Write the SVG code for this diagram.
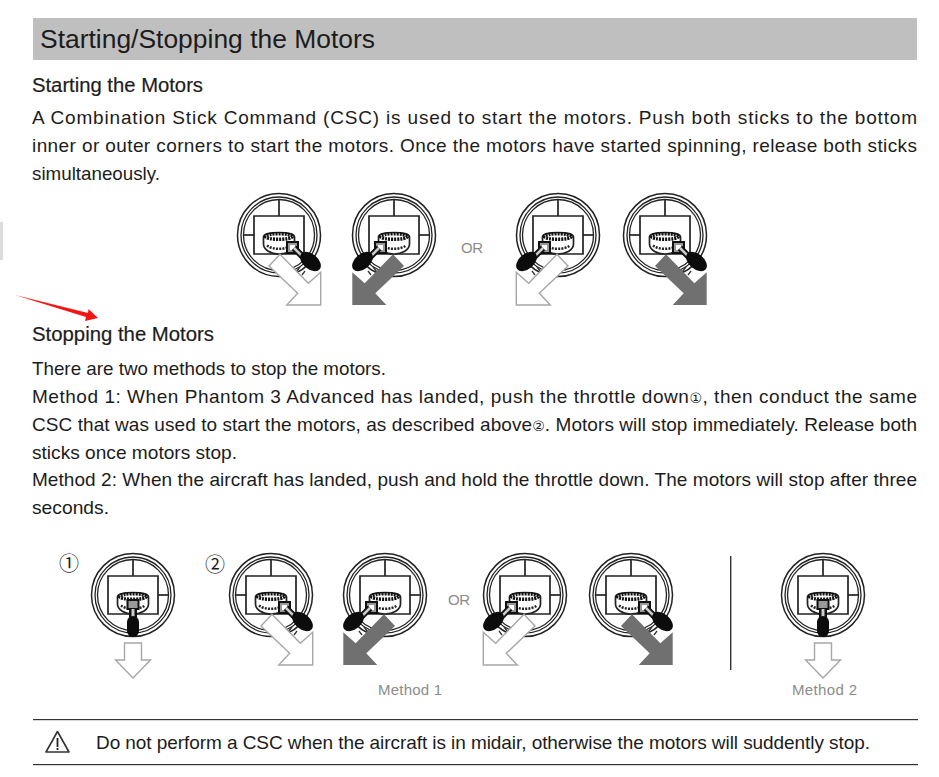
<svg xmlns="http://www.w3.org/2000/svg" xmlns:xlink="http://www.w3.org/1999/xlink" width="939" height="777" viewBox="0 0 939 777">
<style>
text{font-family:"Liberation Sans",Arial,"DejaVu Sans",sans-serif;fill:#1c1c1c}
.b{font-size:19px}
.h{font-size:20.500px;stroke:#1c1c1c;stroke-width:.2}
.g{font-size:15px;fill:#8c8c8c}
.c{font-family:"Noto Sans CJK JP",sans-serif;font-size:20px}
.o{fill:#fff;stroke:#a6a6a6;stroke-width:1.4}
.d{fill:#707070}
.l{fill:none;stroke:#222;stroke-width:1.7}
</style>
<defs>
<g id="base">
<circle r="41.500" fill="#fff" stroke="#222" stroke-width="1.500"/>
<circle r="38" fill="#fff" stroke="#222" stroke-width="1.300"/>
<circle r="35.500" fill="#fff" stroke="#222" stroke-width="1.300"/>
<path class="l" d="M0-35V-19M-25-19H25V19H-25Z"/>
<path d="M-15.500 2C-15.500 -4 15.500 -4 15.500 2V9C15.500 15 8 19 0 19C-8 19 -15.500 15 -15.500 9Z" fill="#fff" stroke="#222" stroke-width="1.700"/>
<ellipse cy="1.500" rx="13.500" ry="2.800" fill="none" stroke="#111" stroke-width="3.500" stroke-dasharray="2 1"/>
<path d="M-12 10.500C-6 15 6 15 12 10.500" fill="none" stroke="#222" stroke-width="2.500" stroke-dasharray="2 1.200"/>
</g>
<path id="stubL" class="l" d="M-35 0H-25"/>
<path id="stubR" class="l" d="M25 0H35"/>
<g id="stickR">
<rect x="8" y="7" width="11" height="11" fill="#999" stroke="#111" stroke-width="2"/>
<rect x="11" y="10" width="5" height="5" fill="#fff"/>
<path d="M15 13L26 24" stroke="#111" stroke-width="6.500"/>
<path d="M15 13L26 24" stroke="#ccc" stroke-width="2.500"/>
<ellipse cx="31.500" cy="26.500" rx="12" ry="7.500" transform="rotate(40 31.500 26.500)" fill="#0c0c0c"/>
<path d="M21 32L17 37M26 36L23 40" stroke="#333" stroke-width="1.300"/>
</g>
<polygon id="ar" points="1,19.3 29.3,48.3 41.7,37.3 41.7,70 7.7,70 18.7,58.3 -10,31"/>
<g id="stickD">
<rect x="-5.500" y="5" width="11" height="9" fill="#999" stroke="#111" stroke-width="2"/>
<path d="M0 14V24" stroke="#111" stroke-width="8"/>
<path d="M0 14V24" stroke="#ccc" stroke-width="3"/>
<rect x="-6" y="21" width="12" height="21" rx="6" fill="#0c0c0c"/>
</g>
<polygon id="dn" points="-8.5,48 8.5,48 8.5,65 17.5,65 0,83 -17.5,65 -8.5,65"/>
</defs>

<rect x="0" y="222" width="3" height="38" fill="#dcdcdc"/>
<rect x="33" y="18" width="884" height="42" fill="#bfbfbf"/>
<text x="40" y="48" font-size="26.500" textLength="335" lengthAdjust="spacingAndGlyphs">Starting/Stopping the Motors</text>
<text class="h" x="32" y="92" textLength="171" lengthAdjust="spacingAndGlyphs">Starting the Motors</text>
<text class="b" x="32" y="124" textLength="885">A Combination Stick Command (CSC) is used to start the motors. Push both sticks to the bottom</text>
<text class="b" x="32" y="152" textLength="885">inner or outer corners to start the motors. Once the motors have started spinning, release both sticks</text>
<text class="b" x="32" y="180" textLength="128" lengthAdjust="spacingAndGlyphs">simultaneously.</text>

<g id="start-a" transform="translate(279 235)"><use xlink:href="#base"/><use xlink:href="#stubL"/><use xlink:href="#stickR"/><use xlink:href="#ar" class="o"/></g>
<g id="start-b" transform="translate(394 235)"><use xlink:href="#base"/><use xlink:href="#stubR"/><g transform="scale(-1 1)"><use xlink:href="#stickR"/><use xlink:href="#ar" class="d"/></g></g>
<text class="g" x="461" y="253" textLength="22">OR</text>
<g id="start-c" transform="translate(558 235)"><use xlink:href="#base"/><use xlink:href="#stubR"/><g transform="scale(-1 1)"><use xlink:href="#stickR"/><use xlink:href="#ar" class="o"/></g></g>
<g id="start-d" transform="translate(665 235)"><use xlink:href="#base"/><use xlink:href="#stubL"/><use xlink:href="#stickR"/><use xlink:href="#ar" class="d"/></g>

<polygon id="red-arrow" points="15,295 88,313 88.500,309 98,318 85,321 86,317" fill="#f51414"/>

<text class="h" x="32" y="341" textLength="182" lengthAdjust="spacingAndGlyphs">Stopping the Motors</text>
<text class="b" x="32" y="375" textLength="354" lengthAdjust="spacingAndGlyphs">There are two methods to stop the motors.</text>
<text class="b" x="32" y="403" textLength="885">Method 1: When Phantom 3 Advanced has landed, push the throttle down<tspan font-size="14">①</tspan>, then conduct the same</text>
<text class="b" x="32" y="431" textLength="885">CSC that was used to start the motors, as described above<tspan font-size="14">②</tspan>. Motors will stop immediately. Release both</text>
<text class="b" x="32" y="459" textLength="205" lengthAdjust="spacingAndGlyphs">sticks once motors stop.</text>
<text class="b" x="32" y="486" textLength="885">Method 2: When the aircraft has landed, push and hold the throttle down. The motors will stop after three</text>
<text class="b" x="32" y="514" textLength="77" lengthAdjust="spacingAndGlyphs">seconds.</text>

<text class="c" x="59" y="571">①</text>
<text class="c" x="205" y="572">②</text>
<g id="stop-1" transform="translate(133 595)"><use xlink:href="#base"/><use xlink:href="#stubR"/><use xlink:href="#stickD"/><use xlink:href="#dn" class="o"/></g>
<g id="stop-2a" transform="translate(271 595)"><use xlink:href="#base"/><use xlink:href="#stubL"/><use xlink:href="#stickR"/><use xlink:href="#ar" class="o"/></g>
<g id="stop-2b" transform="translate(385 595)"><use xlink:href="#base"/><use xlink:href="#stubR"/><g transform="scale(-1 1)"><use xlink:href="#stickR"/><use xlink:href="#ar" class="d"/></g></g>
<text class="g" x="448" y="605" textLength="22">OR</text>
<g id="stop-2c" transform="translate(525 595)"><use xlink:href="#base"/><use xlink:href="#stubR"/><g transform="scale(-1 1)"><use xlink:href="#stickR"/><use xlink:href="#ar" class="o"/></g></g>
<g id="stop-2d" transform="translate(631 595)"><use xlink:href="#base"/><use xlink:href="#stubL"/><use xlink:href="#stickR"/><use xlink:href="#ar" class="d"/></g>
<rect x="730" y="556" width="1.4" height="114" fill="#333"/>
<g id="stop-m2" transform="translate(823 595)"><use xlink:href="#base"/><use xlink:href="#stubR"/><use xlink:href="#stickD"/><use xlink:href="#dn" class="o"/></g>
<text class="g" x="378" y="695" textLength="64">Method 1</text>
<text class="g" x="792" y="695" textLength="65">Method 2</text>

<rect x="33" y="719" width="885" height="1.2" fill="#333"/>
<rect x="33" y="764" width="885" height="1.2" fill="#333"/>
<g id="warning">
<path d="M57.500 731.500L69 752H46Z" fill="#fff" stroke="#333" stroke-width="1.6" stroke-linejoin="round"/>
<path d="M57.500 738V747M57.500 748V750" stroke="#222" stroke-width="1.800"/>
</g>
<text class="b" x="96" y="749" textLength="774">Do not perform a CSC when the aircraft is in midair, otherwise the motors will suddently stop.</text>
</svg>
